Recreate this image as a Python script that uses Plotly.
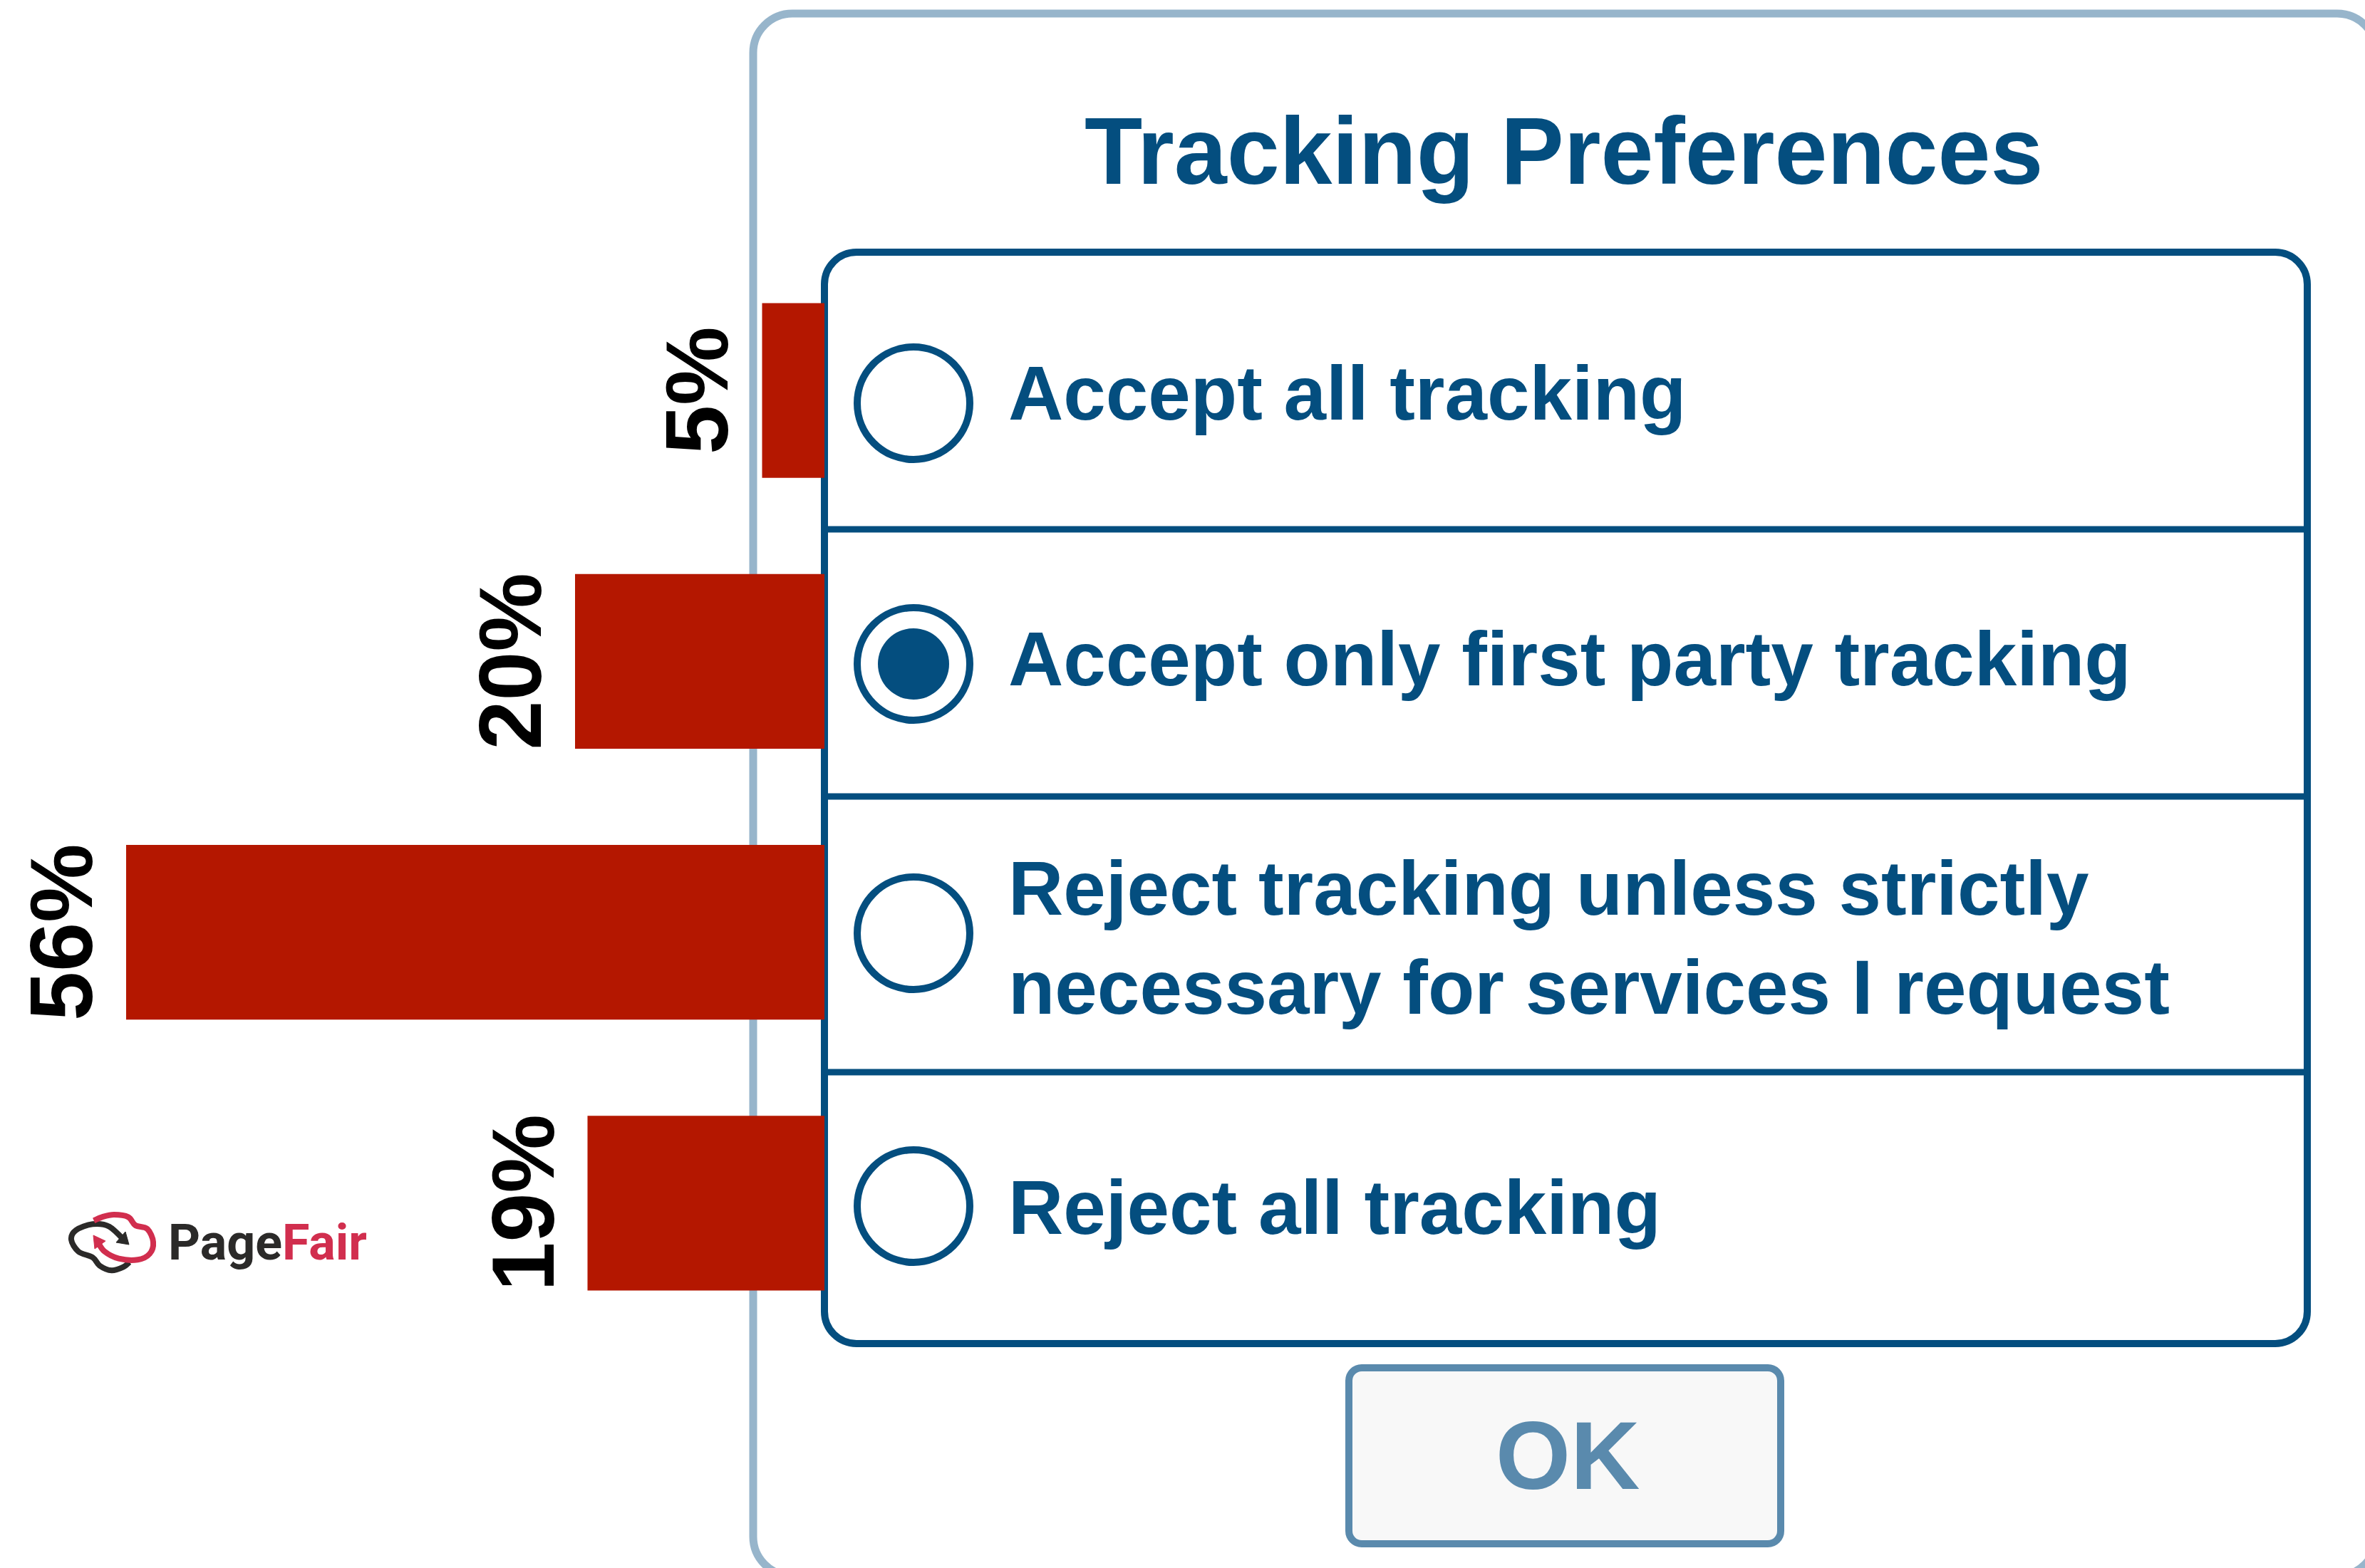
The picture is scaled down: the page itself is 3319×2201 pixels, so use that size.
import plotly.graph_objects as go

# ---------------- data ----------------
options = [
    "Accept all tracking",
    "Accept only first party tracking",
    "Reject tracking unless strictly<br>necessary for services I request",
    "Reject all tracking",
]
shares = [5, 20, 56, 19]          # percent of respondents
share_labels = ["5%", "20%", "56%", "19%"]
selected_option = 1
title_text = "Tracking Preferences"
button_text = "OK"

# ---------------- styling ----------------
W, H = 3319, 2201
RED = "#b41700"
BLUE = "#044e7f"
LIGHT = "#97b5cb"
OKBLUE = "#5a8aad"
FONT = "Liberation Sans, Arial, Helvetica, sans-serif"


def P(x, y):
    return x / W, 1 - y / H


def fmt(x, y):
    a, b = P(x, y)
    return f"{a:.6f},{b:.6f}"


def rrect(l, t, r, b, rad):
    k = 0.5523 * rad
    s = f"M {fmt(l + rad, t)} L {fmt(r - rad, t)} "
    s += f"C {fmt(r - rad + k, t)} {fmt(r, t + rad - k)} {fmt(r, t + rad)} "
    s += f"L {fmt(r, b - rad)} "
    s += f"C {fmt(r, b - rad + k)} {fmt(r - rad + k, b)} {fmt(r - rad, b)} "
    s += f"L {fmt(l + rad, b)} "
    s += f"C {fmt(l + rad - k, b)} {fmt(l, b - rad + k)} {fmt(l, b - rad)} "
    s += f"L {fmt(l, t + rad)} "
    s += f"C {fmt(l, t + rad - k)} {fmt(l + rad - k, t)} {fmt(l + rad, t)} Z"
    return s


def smooth(pts):
    # Catmull-Rom -> cubic bezier
    s = f"M {fmt(*pts[0])}"
    for i in range(len(pts) - 1):
        p0 = pts[i - 1] if i > 0 else pts[i]
        p1 = pts[i]
        p2 = pts[i + 1]
        p3 = pts[i + 2] if i + 2 < len(pts) else pts[i + 1]
        c1 = (p1[0] + (p2[0] - p0[0]) / 6, p1[1] + (p2[1] - p0[1]) / 6)
        c2 = (p2[0] - (p3[0] - p1[0]) / 6, p2[1] - (p3[1] - p1[1]) / 6)
        s += f" C {fmt(*c1)} {fmt(*c2)} {fmt(*p2)}"
    return s


def poly(pts):
    return "M " + " L ".join(fmt(*p) for p in pts) + " Z"


shapes = []
# outer dialog
shapes.append(dict(type="path", path=rrect(1057, 19, 3335, 2212, 55), xref="paper", yref="paper",
                   line=dict(color=LIGHT, width=11), fillcolor="white", layer="below"))
# inner options box
shapes.append(dict(type="path", path=rrect(1157, 354, 3238, 1886, 45), xref="paper", yref="paper",
                   line=dict(color=BLUE, width=10), fillcolor="white", layer="below"))
# dividers
for yy in [743, 1118, 1505]:
    x0, y0 = P(1157, yy)
    x1, _ = P(3238, yy)
    shapes.append(dict(type="line", x0=x0, x1=x1, y0=y0, y1=y0, xref="paper", yref="paper",
                       line=dict(color=BLUE, width=9), layer="below"))
# radio buttons
radio_cy = [566, 932, 1310, 1693]
for i, cy in enumerate(radio_cy):
    x0, y0 = P(1282 - 79, cy + 79)
    x1, y1 = P(1282 + 79, cy - 79)
    shapes.append(dict(type="circle", x0=x0, x1=x1, y0=y0, y1=y1, xref="paper", yref="paper",
                       line=dict(color=BLUE, width=10), fillcolor="white", layer="below"))
    if i == selected_option:
        x0, y0 = P(1282 - 50, cy + 50)
        x1, y1 = P(1282 + 50, cy - 50)
        shapes.append(dict(type="circle", x0=x0, x1=x1, y0=y0, y1=y1, xref="paper", yref="paper",
                           line=dict(color=BLUE, width=0), fillcolor=BLUE, layer="below"))
# OK button
shapes.append(dict(type="path", path=rrect(1893, 1920, 2499, 2167, 18), xref="paper", yref="paper",
                   line=dict(color=OKBLUE, width=10), fillcolor="#f8f8f8", layer="below"))

# PageFair logo icon
dark_pts = [(176.7, 1743.3), (153.3, 1721.7), (130, 1718.3), (106.7, 1726.7), (100, 1740),
            (110, 1756.7), (130, 1765), (140, 1776.7), (156.7, 1783.3), (173.3, 1778.3), (181.7, 1771.7)]
red_pts = [(137, 1743), (146.7, 1756.7), (166.7, 1766.7), (193.3, 1768.3), (210, 1760), (215, 1743.3),
           (206.7, 1725), (190, 1720), (180, 1708.3), (160, 1705), (143.3, 1708.3), (131.7, 1713.3)]
shapes.append(dict(type="path", path=smooth(dark_pts), xref="paper", yref="paper",
                   line=dict(color="#2b2a29", width=8), layer="below"))
shapes.append(dict(type="path", path=smooth(red_pts), xref="paper", yref="paper",
                   line=dict(color="#d12e4e", width=8), layer="below"))
shapes.append(dict(type="path", path=poly([(181, 1747), (163, 1744), (176, 1729)]), xref="paper", yref="paper",
                   line=dict(color="#2b2a29", width=1), fillcolor="#2b2a29", layer="below"))
shapes.append(dict(type="path", path=poly([(131, 1734), (148, 1742), (133, 1753)]), xref="paper", yref="paper",
                   line=dict(color="#d12e4e", width=1), fillcolor="#d12e4e", layer="below"))

annotations = []
# title
tx, ty = P(2195, 212)
annotations.append(dict(x=tx, y=ty, xref="paper", yref="paper", text=f"<b>{title_text}</b>",
                        showarrow=False, xanchor="center", yanchor="middle",
                        font=dict(family=FONT, size=133, color=BLUE)))
# option labels
label_cy = [552, 925, 1316, 1695]
for opt, cy in zip(options, label_cy):
    ax, ay = P(1413, cy)
    annotations.append(dict(x=ax, y=ay, xref="paper", yref="paper", text=f"<b>{opt}</b>",
                            showarrow=False, xanchor="left", yanchor="middle", align="left",
                            font=dict(family=FONT, size=107, color=BLUE)))
# OK text
ox, oy = P(2200, 2043)
annotations.append(dict(x=ox, y=oy, xref="paper", yref="paper", text=f"<b>{button_text}</b>",
                        showarrow=False, xanchor="center", yanchor="middle",
                        font=dict(family=FONT, size=135, color=OKBLUE)))
# logo text
lx, ly = P(234, 1744)
annotations.append(dict(x=lx, y=ly, xref="paper", yref="paper",
                        text="<b><span style='color:#2b2a29'>Page</span><span style='color:#d12e4e'>Fair</span></b>",
                        showarrow=False, xanchor="left", yanchor="middle",
                        font=dict(family="Roboto, sans-serif", size=70, color="#2b2a29")))
# bar value labels
for opt, v, lab in zip(options, shares, share_labels):
    annotations.append(dict(x=v, y=opt, xref="x", yref="y", text=f"<b>{lab}</b>", textangle=-90,
                            showarrow=False, xanchor="right", yanchor="middle", xshift=-20,
                            font=dict(family=FONT, size=124, color="black")))

fig = go.Figure(go.Bar(
    x=shares, y=options, orientation="h",
    marker=dict(color=RED, line=dict(width=0)),
    width=0.645, hoverinfo="skip",
))

ytop = 1 - 358 / H
ybot = 1 - 1879 / H
fig.update_layout(
    width=W, height=H,
    margin=dict(l=0, r=0, t=0, b=0),
    paper_bgcolor="white", plot_bgcolor="rgba(0,0,0,0)",
    showlegend=False,
    xaxis=dict(domain=[0, 1157 / W], range=[1157 / 17.5, 0], visible=False, fixedrange=True),
    yaxis=dict(domain=[ybot, ytop], range=[3.5, -0.5], type="category",
               categoryorder="array", categoryarray=options, visible=False, fixedrange=True),
    shapes=shapes,
    annotations=annotations,
)

fig.write_html("out.html", config={"displayModeBar": False},
               post_script="document.body.style.margin='0';document.body.style.overflow='hidden';")
